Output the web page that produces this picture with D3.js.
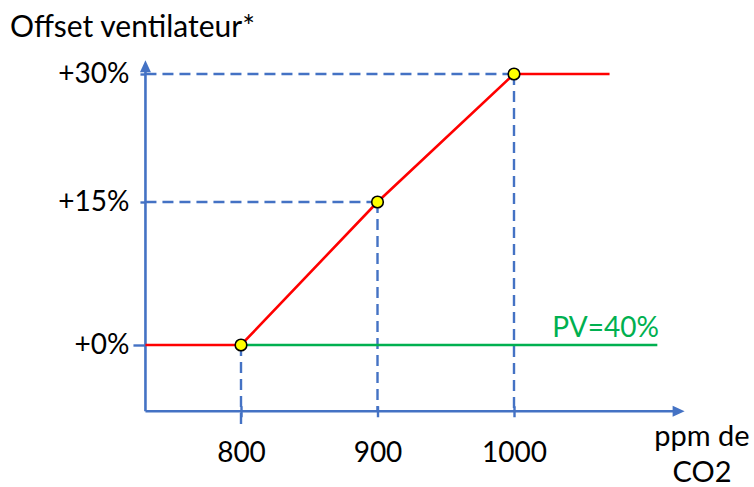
<!DOCTYPE html>
<html>
<head>
<meta charset="utf-8">
<script src="https://cdn.jsdelivr.net/npm/d3@7"></script>
<style>
  html, body { margin: 0; padding: 0; background: #fff; }
  svg { display: block; font-family: Lato, "Open Sans", sans-serif; }
</style>
</head>
<body>
<svg id="chart" width="754" height="487"></svg>
<script>
// ---- data ----
const xTicks = [800, 900, 1000];
const yTicks = [0, 15, 30];
const yTickLabels = ["+0%", "+15%", "+30%"];
const redX = [730, 800, 900, 1000, 1070];
const redY = [0, 0, 15, 30, 30];
const greenX = [800, 1105];
const greenY = [0, 0];
const pointX = [800, 900, 1000];
const pointY = [0, 15, 30];
const yTitle = "Offset ventilateur*";
const xTitle = ["ppm de", "CO2"];
const greenLabel = "PV=40%";

// ---- styles ----
const BLUE = "#4472C4", RED = "#FF0000", GREEN = "#00B050";

const svg = d3.select("#chart");
const x = d3.scaleLinear().domain([800, 1000]).range([241, 514]);
const y = d3.scaleLinear().domain([0, 15, 30]).range([345, 202, 74]);

const xMin = 730, xMax = 1125;     // axis extent in data units
const yMin = -6.95, yMax = 31.6;

// dashed guide lines
const guides = svg.append("g").attr("stroke", BLUE).attr("stroke-width", 2.4)
  .attr("stroke-dasharray", "11,6").attr("fill", "none");
pointX.forEach((px, i) => {
  const py = pointY[i];
  if (py > 0) {
    guides.append("line").attr("x1", x(xMin)).attr("x2", x(px))
      .attr("y1", y(py)).attr("y2", y(py));
  }
  guides.append("line").attr("x1", x(px)).attr("x2", x(px))
    .attr("y1", y(py)).attr("y2", py === 0 ? y(yMin) + 16 : y(yMin));
});

// axes (domain lines drawn with arrows)
const axisG = svg.append("g");
axisG.append("line").attr("x1", x(xMin)).attr("x2", x(xMax) - 8)
  .attr("y1", y(yMin)).attr("y2", y(yMin)).attr("stroke", BLUE).attr("stroke-width", 2.6);
axisG.append("line").attr("x1", x(xMin)).attr("x2", x(xMin))
  .attr("y1", y(yMin)).attr("y2", y(yMax) + 8).attr("stroke", BLUE).attr("stroke-width", 2.6);
// arrowheads
const ax = x(xMax), ay = y(yMin);
axisG.append("path").attr("fill", BLUE)
  .attr("d", `M${ax},${ay} L${ax - 12},${ay - 5.5} L${ax - 12},${ay + 5.5} Z`);
const bx = x(xMin), by = y(yMax);
axisG.append("path").attr("fill", BLUE)
  .attr("d", `M${bx},${by} L${bx - 5.5},${by + 12} L${bx + 5.5},${by + 12} Z`);

// x ticks & labels
const xAxis = d3.axisBottom(x).tickValues(xTicks).tickSize(6).tickPadding(25)
  .tickFormat(d3.format("d"));
const gx = svg.append("g").attr("transform", `translate(0,${y(yMin)})`).call(xAxis);
gx.select(".domain").remove();
gx.selectAll(".tick line").attr("stroke", BLUE).attr("stroke-width", 2.4).attr("y1", -5);
gx.selectAll(".tick text").attr("font-size", 28).attr("fill", "#000")
  .attr("font-family", "Lato, 'Open Sans', sans-serif");

// y ticks & labels
const yAxis = d3.axisLeft(y).tickValues(yTicks).tickSize(12).tickPadding(4)
  .tickFormat((d, i) => yTickLabels[i]);
const gy = svg.append("g").attr("transform", `translate(${x(xMin)},0)`).call(yAxis);
gy.select(".domain").remove();
gy.selectAll(".tick line").attr("stroke", BLUE).attr("stroke-width", 2.4)
  .attr("x2", d => d === 0 ? -12 : -5);
gy.selectAll(".tick text").attr("font-size", 28).attr("fill", "#000")
  .attr("font-family", "Lato, 'Open Sans', sans-serif");

// series lines
const line = d3.line().x(d => x(d[0])).y(d => y(d[1]));
svg.append("path").datum(greenX.map((v, i) => [v, greenY[i]]))
  .attr("d", line).attr("fill", "none").attr("stroke", GREEN).attr("stroke-width", 2.6);
svg.append("path").datum(redX.map((v, i) => [v, redY[i]]))
  .attr("d", line).attr("fill", "none").attr("stroke", RED).attr("stroke-width", 2.6);

// points
svg.append("g").selectAll("circle").data(pointX.map((v, i) => [v, pointY[i]]))
  .join("circle").attr("cx", d => x(d[0])).attr("cy", d => y(d[1])).attr("r", 5.8)
  .attr("fill", "#FFFF00").attr("stroke", "#000").attr("stroke-width", 1.6);

// texts
svg.append("text").attr("x", 10).attr("y", 37).attr("font-size", 30).attr("fill", "#000")
  .text(yTitle);
svg.append("text").attr("x", 702).attr("y", 446).attr("text-anchor", "middle")
  .attr("font-size", 29).attr("fill", "#000").text(xTitle[0]);
svg.append("text").attr("x", 702).attr("y", 482).attr("text-anchor", "middle")
  .attr("font-size", 29).attr("fill", "#000").text(xTitle[1]);
svg.append("text").attr("x", 659).attr("y", 337).attr("text-anchor", "end")
  .attr("font-size", 28).attr("fill", GREEN).text(greenLabel);
</script>
</body>
</html>
